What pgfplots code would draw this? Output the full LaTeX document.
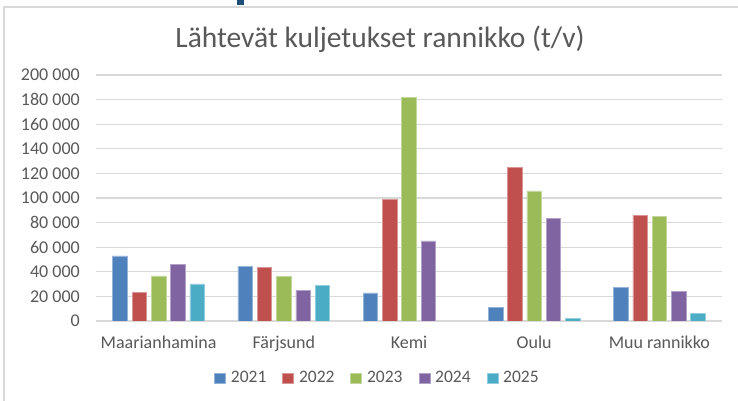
\documentclass[border=0pt]{standalone}
\usepackage{pgfplots}
\pgfplotsset{compat=1.18}
\usepackage{fontspec}
\setmainfont{Carlito}
\definecolor{c1}{HTML}{4F81BD}
\definecolor{c2}{HTML}{C0504D}
\definecolor{c3}{HTML}{9BBB59}
\definecolor{c4}{HTML}{8064A2}
\definecolor{c5}{HTML}{4BACC6}
\definecolor{txt}{HTML}{595959}
\definecolor{gridc}{HTML}{D9D9D9}
\definecolor{dblue}{HTML}{1F4E79}
\begin{document}
\begin{tikzpicture}
\useasboundingbox (0bp,0bp) rectangle (738bp,401bp);
\fill[white] (0bp,0bp) rectangle (738bp,401bp);
\draw[gridc, line width=1.5bp] (4bp,0bp) -- (4bp,394bp) -- (738bp,394bp);
\fill[dblue] (237bp,396bp) rectangle (244bp,401bp);
\begin{axis}[
  at={(96bp,80bp)}, anchor=south west,
  scale only axis, width=626bp, height=246bp,
  ymin=0, ymax=200000, xmin=-0.5, xmax=4.5,
  scaled y ticks=false,
  ytick={0,20000,40000,60000,80000,100000,120000,140000,160000,180000,200000},
  yticklabels={0,20~000,40~000,60~000,80~000,100~000,120~000,140~000,160~000,180~000,200~000},
  xtick={0,1,2,3,4},
  xticklabels={Maarianhamina,Färjsund,Kemi,Oulu,Muu rannikko},
  major tick length=0pt,
  axis line style={draw=none},
  ymajorgrids, grid style={gridc, line width=1.2bp},
  ybar=4.8bp, bar width=14.5bp,
  tick label style={font=\fontsize{18bp}{20bp}\selectfont, text=txt},
  yticklabel style={anchor=east, inner sep=0pt, xshift=-16bp},
  xticklabel style={anchor=base, inner sep=0pt, yshift=-28bp},
  title={Lähtevät kuljetukset rannikko (t/v)},
  title style={at={(0.4537,1.12)}, anchor=center, font=\fontsize{29.5bp}{31bp}\selectfont, text=txt},
  legend columns=5,
  legend style={at={(0.4497,-0.2317)}, anchor=center, draw=none, fill=none,
    font=\fontsize{17.5bp}{19bp}\selectfont, text=txt,
    /tikz/every odd column/.append style={column sep=3bp},
    /tikz/every even column/.append style={column sep=14bp}},
  legend image code/.code={\fill[#1] (0bp,-5bp) rectangle (11bp,5bp);},
]
\addplot[fill=c1, draw=c1!60!white, line width=0.6bp] coordinates {(0,52900) (1,44700) (2,22800) (3,10900) (4,27600)};
\addplot[fill=c2, draw=c2!60!white, line width=0.6bp] coordinates {(0,23300) (1,43800) (2,98900) (3,125000) (4,86100)};
\addplot[fill=c3, draw=c3!60!white, line width=0.6bp] coordinates {(0,36700) (1,36400) (2,181500) (3,105700) (4,85000)};
\addplot[fill=c4, draw=c4!60!white, line width=0.6bp] coordinates {(0,45800) (1,24900) (2,65200) (3,83600) (4,23800)};
\addplot[fill=c5, draw=c5!60!white, line width=0.6bp] coordinates {(0,30100) (1,28800) (3,1900) (4,6000)};
\legend{2021,2022,2023,2024,2025}
\end{axis}
\end{tikzpicture}
\end{document}
